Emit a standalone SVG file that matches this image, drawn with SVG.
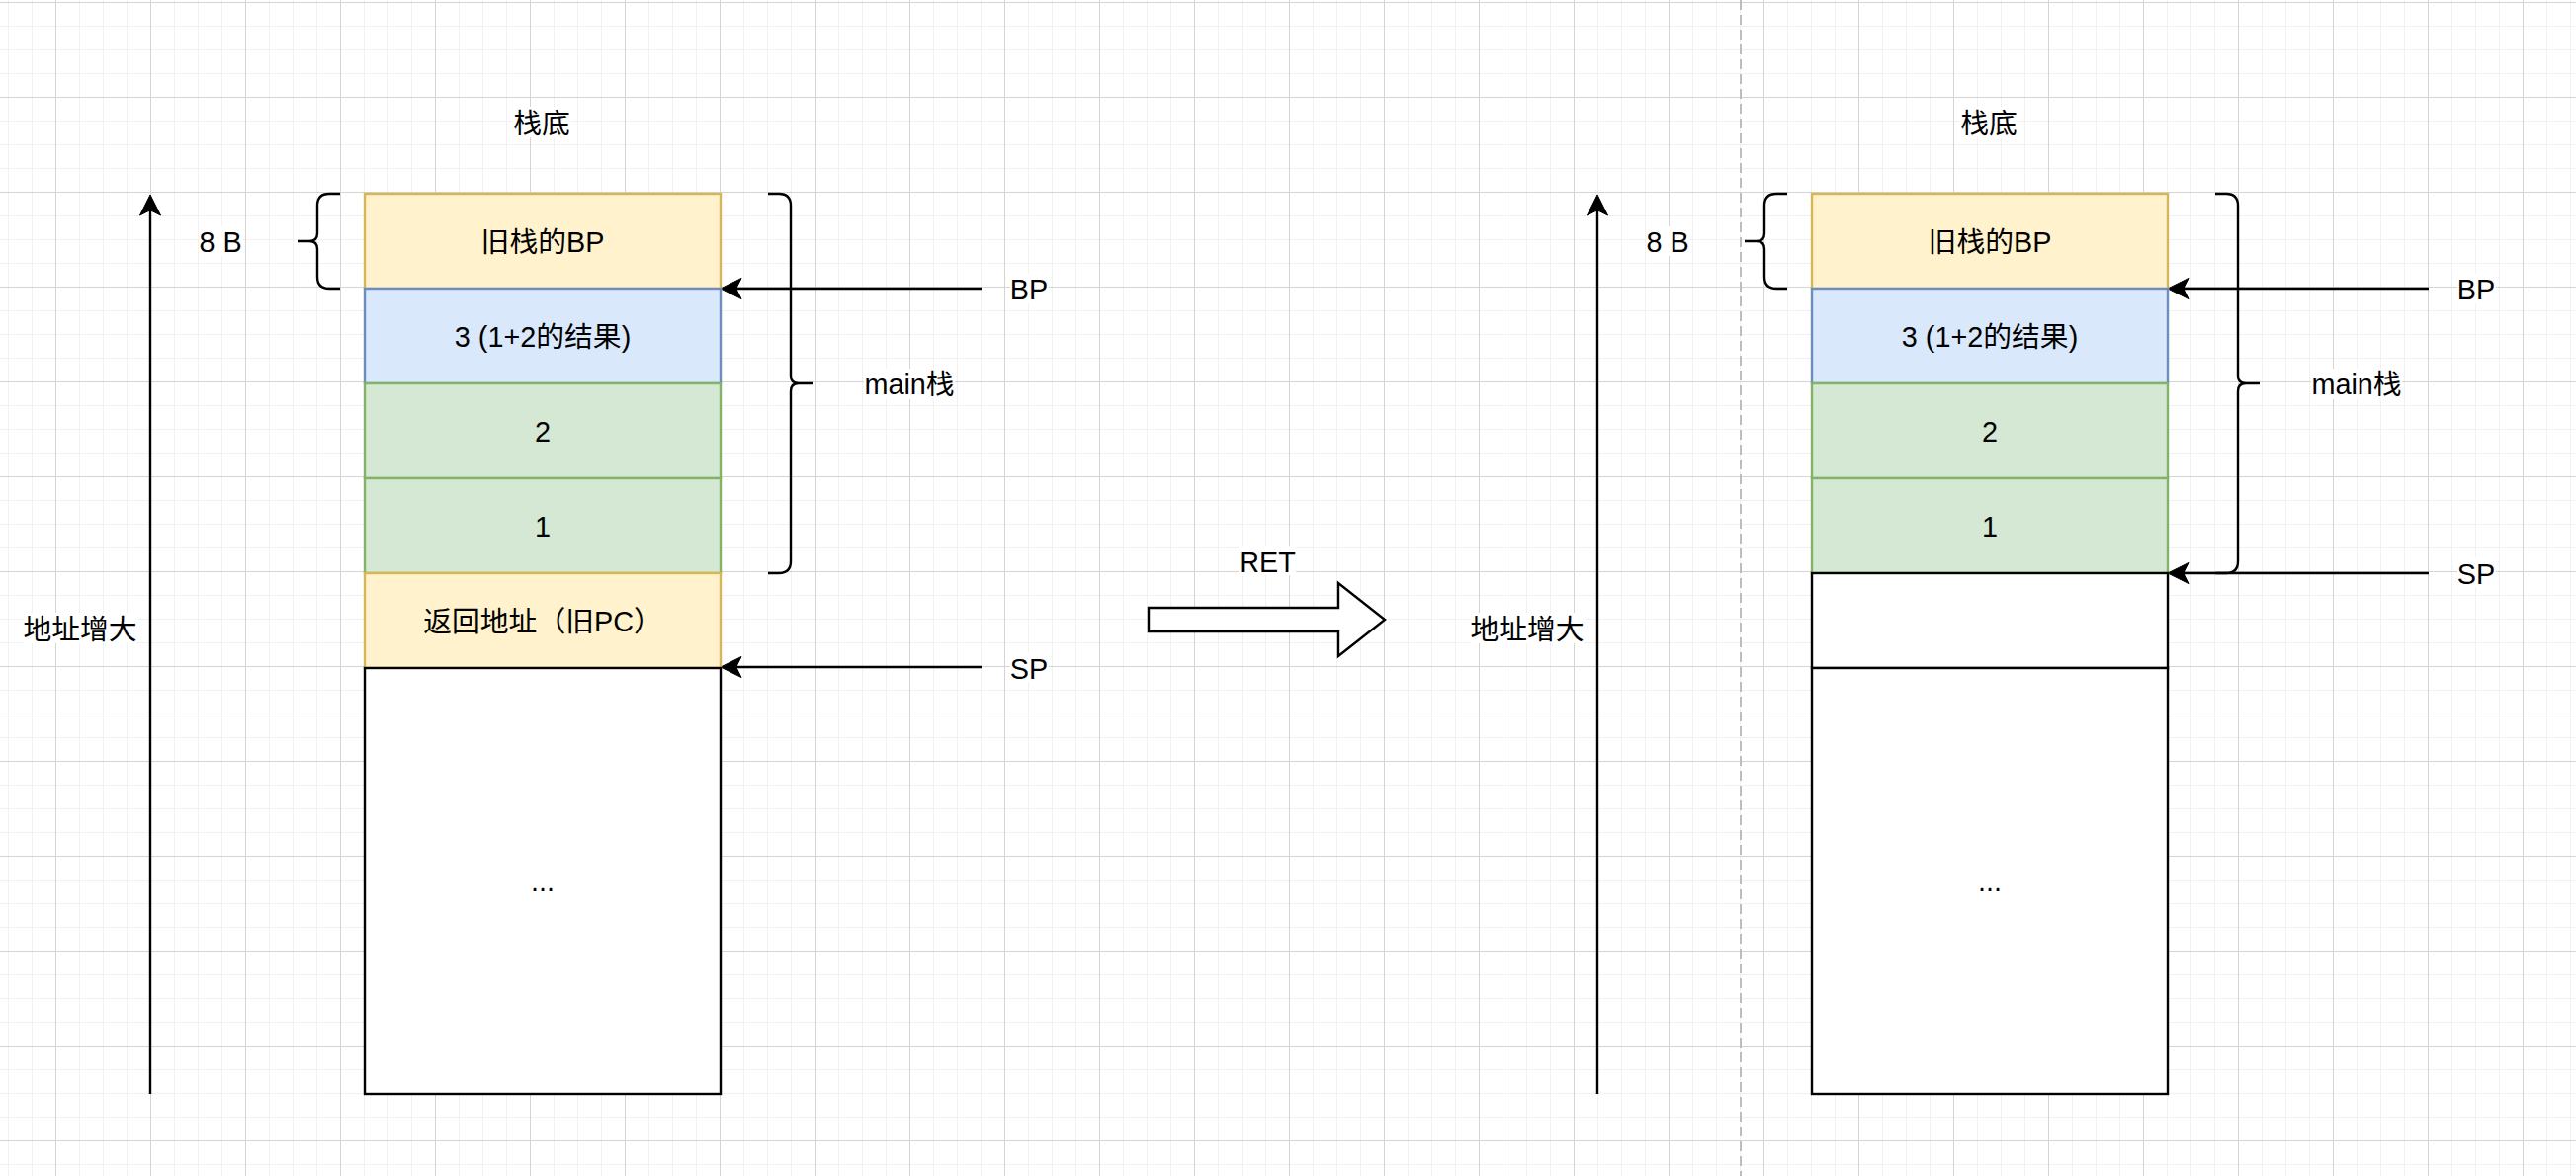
<svg xmlns="http://www.w3.org/2000/svg" width="2606" height="1190" viewBox="0 0 2606 1190">
<style>
.t{font-family:"Liberation Sans","Noto Sans CJK SC",sans-serif;font-size:28.8px;fill:#000;text-anchor:middle}
.lb{fill:#fff}
.y{fill:#fff2cc;stroke:#d6b656;stroke-width:2.4}
.b{fill:#dae8fc;stroke:#6c8ebf;stroke-width:2.4}
.g{fill:#d5e8d4;stroke:#82b366;stroke-width:2.4}
.w{fill:#fff;stroke:#000;stroke-width:2.4}
.br{fill:none;stroke:#000;stroke-width:2.4}
.ln{fill:none;stroke:#000;stroke-width:2.4;marker-end:url(#ah)}
</style>
<defs>
<pattern id="grid" patternUnits="userSpaceOnUse" x="56" y="2" width="96" height="96">
<path d="M24.5 0V96M48.5 0V96M72.5 0V96M0 24.5H96M0 48.5H96M0 72.5H96" stroke="#f1f1f1" stroke-width="1" fill="none"/>
<path d="M0.5 0V96M0 0.5H96" stroke="#d4d4d4" stroke-width="1" fill="none"/>
</pattern>
<marker id="ah" markerUnits="userSpaceOnUse" viewBox="-22 -11 23 22" markerWidth="23" markerHeight="22" refX="-14" refY="0" orient="auto">
<path d="M0,0 L-21,-10.5 L-15.75,0 L-21,10.5 Z" fill="#000" stroke="#000" stroke-width="1"/>
</marker>
</defs>
<rect x="0" y="0" width="2606" height="1190" fill="#fff"/>
<rect x="0" y="0" width="2606" height="1190" fill="url(#grid)"/>
<line x1="1761" y1="0" x2="1761" y2="1190" stroke="#bdbdbd" stroke-width="2" stroke-dasharray="10 5"/>

<g id="connectors">
<line class="ln" x1="152" y1="1107" x2="152" y2="211"/>
<line class="ln" x1="993" y1="292" x2="743" y2="292"/>
<line class="ln" x1="993" y1="675" x2="743" y2="675"/>
<line class="ln" x1="1616" y1="1107" x2="1616" y2="211"/>
<line class="ln" x1="2457" y1="292" x2="2207" y2="292"/>
<line class="ln" x1="2457" y1="580" x2="2207" y2="580"/>
</g>

<!-- left stack -->
<g id="l-oldbp"><rect class="y" x="369" y="196" width="360" height="96"/><text class="t" x="549" y="254.5">旧栈的BP</text></g>
<g id="l-result"><rect class="b" x="369" y="292" width="360" height="96"/><text class="t" x="549" y="350.5">3 (1+2的结果)</text></g>
<g id="l-two"><rect class="g" x="369" y="388" width="360" height="96"/><text class="t" x="549" y="446.5">2</text></g>
<g id="l-one"><rect class="g" x="369" y="484" width="360" height="96"/><text class="t" x="549" y="542.5">1</text></g>
<g id="l-ret"><rect class="y" x="369" y="580" width="360" height="96"/><text class="t" x="549" y="638.5">返回地址（旧PC）</text></g>
<g id="l-rest"><rect class="w" x="369" y="676" width="360" height="431"/><text class="t" x="549" y="902">...</text></g>

<g id="l-bottom-label"><rect class="lb" x="519" y="108" width="58" height="31"/><text class="t" x="548" y="135">栈底</text></g>
<g id="l-addr-label"><rect class="lb" x="23" y="620" width="116" height="31"/><text class="t" x="81" y="646.5">地址增大</text></g>
<g id="l-8b"><rect class="lb" x="201" y="229" width="44" height="30"/><text class="t" x="223" y="255">8 B</text></g>
<g id="l-brace8"><path class="br" d="M344,196 L333,196 Q321,196 321,208 L321,236 Q321,244 313,244 L301,244 M313,244 Q321,244 321,252 L321,280 Q321,292 333,292 L344,292"/></g>
<g id="l-bracemain"><path class="br" d="M777,196 L788,196 Q800,196 800,208 L800,380 Q800,388 808,388 L822,388 M808,388 Q800,388 800,396 L800,568 Q800,580 788,580 L777,580"/></g>
<g id="l-main"><rect class="lb" x="874" y="373" width="92" height="31"/><text class="t" x="920" y="399">main栈</text></g>
<g id="l-bp"><rect class="lb" x="1022" y="277" width="39" height="30"/><text class="t" x="1041" y="303">BP</text></g>
<g id="l-sp"><rect class="lb" x="1022" y="660" width="39" height="30"/><text class="t" x="1041" y="686.5">SP</text></g>

<!-- RET arrow -->
<g id="ret-arrow"><polygon points="1162,615 1354,615 1354,590 1401,627 1354,664 1354,639 1162,639" fill="#fff" stroke="#000" stroke-width="2.4" stroke-linejoin="miter"/></g>
<g id="ret-label"><rect class="lb" x="1253" y="553" width="58" height="29"/><text class="t" x="1282" y="579">RET</text></g>

<!-- right stack -->
<g id="r-oldbp"><rect class="y" x="1833" y="196" width="360" height="96"/><text class="t" x="2013" y="254.5">旧栈的BP</text></g>
<g id="r-result"><rect class="b" x="1833" y="292" width="360" height="96"/><text class="t" x="2013" y="350.5">3 (1+2的结果)</text></g>
<g id="r-two"><rect class="g" x="1833" y="388" width="360" height="96"/><text class="t" x="2013" y="446.5">2</text></g>
<g id="r-one"><rect class="g" x="1833" y="484" width="360" height="96"/><text class="t" x="2013" y="542.5">1</text></g>
<g id="r-empty"><rect class="w" x="1833" y="580" width="360" height="96"/></g>
<g id="r-rest"><rect class="w" x="1833" y="676" width="360" height="431"/><text class="t" x="2013" y="902">...</text></g>

<g id="r-bottom-label"><rect class="lb" x="1983" y="108" width="58" height="31"/><text class="t" x="2012" y="135">栈底</text></g>
<g id="r-addr-label"><rect class="lb" x="1487" y="620" width="116" height="31"/><text class="t" x="1545" y="646.5">地址增大</text></g>
<g id="r-8b"><rect class="lb" x="1665" y="229" width="44" height="30"/><text class="t" x="1687" y="255">8 B</text></g>
<g id="r-brace8"><path class="br" d="M1808,196 L1797,196 Q1785,196 1785,208 L1785,236 Q1785,244 1777,244 L1765,244 M1777,244 Q1785,244 1785,252 L1785,280 Q1785,292 1797,292 L1808,292"/></g>
<g id="r-bracemain"><path class="br" d="M2241,196 L2252,196 Q2264,196 2264,208 L2264,380 Q2264,388 2272,388 L2286,388 M2272,388 Q2264,388 2264,396 L2264,568 Q2264,580 2252,580 L2241,580"/></g>
<g id="r-main"><rect class="lb" x="2338" y="373" width="92" height="31"/><text class="t" x="2384" y="399">main栈</text></g>
<g id="r-bp"><rect class="lb" x="2486" y="277" width="39" height="30"/><text class="t" x="2505" y="303">BP</text></g>
<g id="r-sp"><rect class="lb" x="2486" y="564" width="39" height="30"/><text class="t" x="2505" y="590.5">SP</text></g>
</svg>
